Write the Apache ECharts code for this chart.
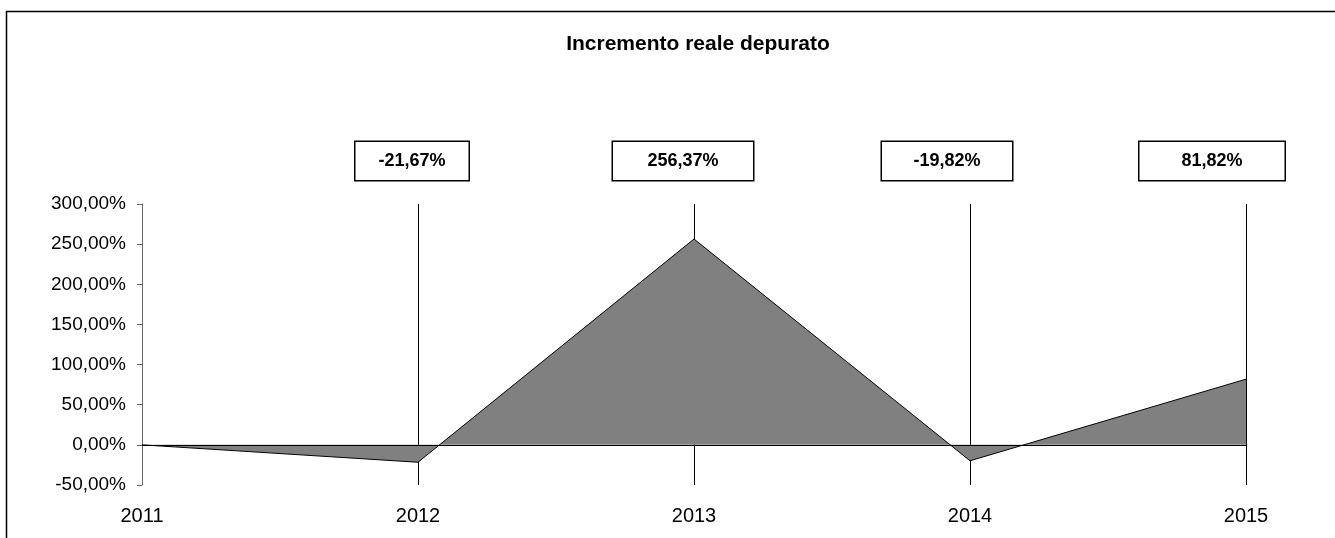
<!DOCTYPE html>
<html>
<head>
<meta charset="utf-8">
<script src="https://cdn.jsdelivr.net/npm/echarts@6/dist/echarts.min.js"></script>
<style>
  html, body { margin: 0; padding: 0; background: #fff; }
  #main { width: 1335px; height: 538px; }
</style>
</head>
<body>
<div id="main"></div>
<script>
// dati
var anni = ["2011", "2012", "2013", "2014", "2015"];
var incremento = [0, -21.67, 256.37, -19.82, 81.82];
var yTicks = [-50, 0, 50, 100, 150, 200, 250, 300];

// larghezza e spostamento dei riquadri etichetta (solo stile)
var boxW = [113, 140, 130, 145];
var boxDx = [-6, -11, -23, -34];

function perc(v) {
  return v.toFixed(2).replace(".", ",") + "%";
}

var chart = echarts.init(document.getElementById("main"));

var punti = [];
for (var i = 1; i < anni.length; i++) {
  punti.push({
    coord: [anni[i], yTicks[yTicks.length - 1]],
    value: incremento[i],
    label: { width: boxW[i - 1], offset: [boxDx[i - 1], -43] }
  });
}

var option = {
  animation: false,
  title: {
    text: "Incremento reale depurato",
    left: 698,
    top: 34,
    padding: 0,
    textAlign: "center",
    textStyle: {
      fontFamily: "Liberation Sans, Arial, sans-serif",
      fontSize: 21,
      fontWeight: "bold",
      color: "#000"
    }
  },
  graphic: [
    {
      type: "rect",
      shape: { x: 6.5, y: 11.5, width: 1400, height: 600 },
      style: { fill: "none", stroke: "#000", lineWidth: 1.5 },
      silent: true
    }
  ],
  grid: { left: 142, right: 89, top: 204, bottom: 53 },
  xAxis: {
    type: "category",
    data: anni,
    boundaryGap: false,
    axisLine: { show: false, onZero: false },
    axisTick: { show: false },
    splitLine: { show: true, lineStyle: { color: "#000", width: 1 } },
    axisLabel: {
      margin: 21,
      fontFamily: "Liberation Sans, Arial, sans-serif",
      fontSize: 20,
      color: "#000"
    }
  },
  yAxis: {
    type: "value",
    min: yTicks[0],
    max: yTicks[yTicks.length - 1],
    interval: 50,
    axisLine: { show: true, lineStyle: { color: "#666", width: 1 } },
    axisTick: { show: true, inside: false, length: 5, lineStyle: { color: "#666" } },
    splitLine: { show: false },
    axisLabel: {
      margin: 16,
      fontFamily: "Liberation Sans, Arial, sans-serif",
      fontSize: 19,
      color: "#000",
      formatter: function (v) { return perc(v); }
    }
  },
  series: [
    {
      name: "Incremento reale depurato",
      type: "line",
      data: incremento,
      symbol: "none",
      lineStyle: { color: "#000", width: 1 },
      areaStyle: { color: "#808080", opacity: 1, origin: 0 },
      markLine: {
        silent: true,
        symbol: ["none", "none"],
        label: { show: false },
        lineStyle: { color: "#000", width: 1.2, type: "solid" },
        data: [{ yAxis: 0 }]
      },
      markPoint: {
        silent: true,
        symbol: "rect",
        symbolSize: 0,
        label: {
          show: true,
          position: "inside",
          formatter: function (p) { return perc(p.value); },
          fontFamily: "Liberation Sans, Arial, sans-serif",
          fontSize: 18,
          fontWeight: "bold",
          color: "#000",
          height: 38,
          align: "center",
          verticalAlign: "middle",
          lineHeight: 38,
          backgroundColor: "#fff",
          borderColor: "#000",
          borderWidth: 1.5
        },
        data: punti
      }
    }
  ]
};

chart.setOption(option);
</script>
</body>
</html>
